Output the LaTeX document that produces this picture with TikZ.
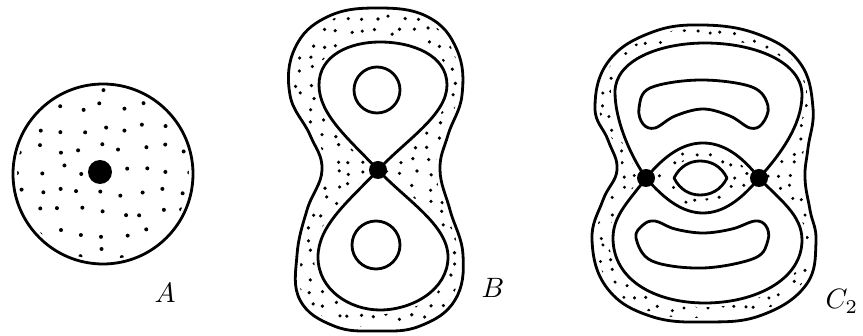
\documentclass[tikz,border=0pt]{standalone}
\begin{document}
\begin{tikzpicture}[x=1pt,y=-1pt,
  contour/.style={line width=2.8pt,line join=round},
  knock/.style={line width=8pt,white},
  stipdot/.style={fill=black},
  lab/.style={scale=2.8,anchor=base west,inner sep=0pt}]
\useasboundingbox (0,0) rectangle (863,336);
\pgfmathsetseed{11}
% ---------- path definitions ----------
\def\Acircle{(103,174) circle[radius=90]}
\def\Bouter{plot[smooth cycle,tension=0.7] coordinates {(377,8) (428,17) (457,50) (462,95) (448,135) (440,170) (450,210) (463,255) (455,300) (420,326) (377,331) (334,326) (300,300) (297,255) (307,210) (322,170) (310,135) (290,95) (295,48) (327,17)}}
\def\Blobes{(378,170) .. controls (350,140) and (319,115) .. (319,85) .. controls (319,55) and (350,42) .. (380,42) .. controls (412,42) and (447,55) .. (447,85) .. controls (447,115) and (406,140) .. (378,170) .. controls (350,200) and (318,225) .. (318,257) .. controls (318,290) and (350,310) .. (380,310) .. controls (412,310) and (448,290) .. (448,257) .. controls (448,225) and (406,200) .. (378,170) -- cycle}
\def\Bcircles{(377,90) circle[radius=23] (376,245) circle[radius=24]}
\def\Couter{plot[smooth cycle,tension=0.7] coordinates {(703,25) (760,35) (800,63) (813,108) (808,148) (805,178) (810,210) (816,242) (806,285) (762,315) (707,322) (650,316) (607,288) (592,240) (603,200) (617,170) (608,140) (595,108) (608,62) (650,33)}}
\def\Csecond{(646,178) .. controls (630,155) and (615,120) .. (615,92) .. controls (615,60) and (660,43) .. (705,43) .. controls (755,43) and (802,62) .. (802,95) .. controls (802,125) and (780,155) .. (759,178) .. controls (780,200) and (802,215) .. (802,240) .. controls (802,280) and (755,303) .. (705,303) .. controls (655,303) and (613,280) .. (613,238) .. controls (613,215) and (630,200) .. (646,178) -- cycle}
\def\Clens{(646,178) .. controls (665,155) and (683,143) .. (703,143) .. controls (723,143) and (741,155) .. (759,178) .. controls (741,200) and (723,213) .. (703,213) .. controls (683,213) and (665,200) .. (646,178) -- cycle}
\def\Cellipse{(674,178) .. controls (680,166) and (690,161) .. (700,161) .. controls (711,161) and (721,166) .. (727,178) .. controls (721,190) and (711,195) .. (700,195) .. controls (690,195) and (680,190) .. (674,178) -- cycle}
\def\Cup{plot[smooth cycle,tension=0.6] coordinates {(639,108) (650,88) (700,80) (752,87) (768,106) (762,124) (750,128) (730,116) (703,109) (675,116) (655,128) (643,124)}}
\def\Cdown{plot[smooth cycle,tension=0.6] coordinates {(636,238) (643,225) (655,221) (675,229) (703,233) (732,229) (755,221) (766,226) (768,240) (755,258) (703,268) (652,261)}}
% ---------- stipple ----------
\begin{scope}
  \clip \Acircle;
  \foreach \x in {18,39,...,195} \foreach \y in {86,107,...,265}
    \fill[stipdot] ({\x+5*rand},{\y+5*rand}) circle[radius=2];
\end{scope}
\begin{scope}[even odd rule]
  \clip \Bouter \Blobes;
  \foreach \x in {285,298,...,470} \foreach \y in {5,18,...,336}
    \fill[stipdot] ({\x+3.5*rand},{\y+3.5*rand}) circle[radius=1.8];
\end{scope}
\begin{scope}[even odd rule]
  \clip \Couter \Csecond \Clens \Cellipse;
  \foreach \x in {588,600,...,822} \foreach \y in {20,32,...,330}
    \fill[stipdot] ({\x+3.2*rand},{\y+3.2*rand}) circle[radius=1.7];
\end{scope}
% ---------- knock out dots near lines ----------
\draw[knock] \Acircle;
\fill[white] (100,172) circle[radius=16];
\draw[knock] \Bouter;
\draw[knock] \Blobes;
\draw[knock] \Couter;
\draw[knock] \Csecond;
\draw[knock] \Clens;
\draw[knock] \Cellipse;
% ---------- contours ----------
\draw[contour] \Acircle;
\fill (100,172) circle[radius=12];
\draw[contour] \Bouter;
\draw[contour] \Blobes;
\draw[contour] \Bcircles;
\fill (378,170) circle[radius=9];
\draw[contour] \Couter;
\draw[contour] \Csecond;
\draw[contour] \Clens;
\draw[contour] \Cellipse;
\draw[contour] \Cup;
\draw[contour] \Cdown;
\fill (646,178) circle[radius=9];
\fill (759,178) circle[radius=9];
% ---------- labels ----------
\node[lab] (labA) at (154,303) {$A$};
\node[lab] (labB) at (481,298) {$B$};
\node[lab] (labC) at (825,309) {$C_2$};
\end{tikzpicture}
\end{document}
